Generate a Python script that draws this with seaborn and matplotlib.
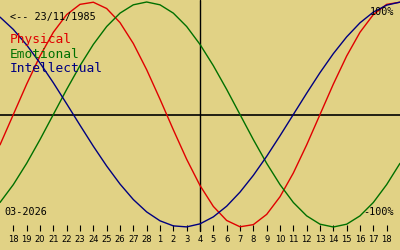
import matplotlib
matplotlib.use("Agg")
import matplotlib.pyplot as plt
import seaborn as sns
import pandas as pd

# Day labels (Feb 17 .. Mar 19, 2026); only Feb 18 .. Mar 18 are labelled
day_labels = ["17", "18", "19", "20", "21", "22", "23", "24", "25", "26", "27", "28",
              "1", "2", "3", "4", "5", "6", "7", "8", "9", "10", "11", "12", "13",
              "14", "15", "16", "17", "18", "19"]
physical = [-0.270, 0.000, 0.270, 0.520, 0.731, 0.888, 0.979, 0.998, 0.942, 0.817,
            0.631, 0.398, 0.136, -0.136, -0.398, -0.631, -0.817, -0.942, -0.998,
            -0.979, -0.888, -0.731, -0.520, -0.270, 0.000, 0.270, 0.520, 0.731,
            0.888, 0.979, 0.998]
emotional = [-0.782, -0.623, -0.434, -0.223, 0.000, 0.223, 0.434, 0.623, 0.782,
             0.901, 0.975, 1.000, 0.975, 0.901, 0.782, 0.623, 0.434, 0.223, 0.000,
             -0.223, -0.434, -0.623, -0.782, -0.901, -0.975, -1.000, -0.975,
             -0.901, -0.782, -0.623, -0.434]
intellectual = [0.866, 0.756, 0.618, 0.458, 0.282, 0.095, -0.095, -0.282, -0.458,
                -0.618, -0.756, -0.866, -0.945, -0.990, -0.999, -0.972, -0.910,
                -0.815, -0.690, -0.541, -0.372, -0.189, 0.000, 0.189, 0.372, 0.541,
                0.690, 0.815, 0.910, 0.972, 0.999]
series_names = ["Physical", "Emotional", "Intellectual"]
series_colors = ["#e00000", "#007000", "#000080"]
today_label = "4"
birth_text = "<-- 23/11/1985"
month_text = "03-2026"

sns.set_theme(style="white")
plt.rcParams["font.family"] = ["DejaVu Sans Mono", "DejaVu Sans"]
plt.rcParams["xtick.bottom"] = True
plt.rcParams["xtick.major.size"] = 4.3
plt.rcParams["xtick.major.width"] = 0.8
plt.rcParams["xtick.direction"] = "in"
plt.rcParams["xtick.color"] = "black"

bg = "#e1d285"
n = len(day_labels)
days = list(range(-1, n - 1))
df = pd.DataFrame({
    "day": days * 3,
    "value": physical + emotional + intellectual,
    "series": [s for s in series_names for _ in range(n)],
})

fig = plt.figure(figsize=(4, 2.5), dpi=100, facecolor=bg)
ax = fig.add_axes([0, 0, 1, 1])
ax.set_facecolor(bg)

sns.lineplot(data=df, x="day", y="value", hue="series", hue_order=series_names,
             palette=series_colors, linewidth=1.0, legend=False, ax=ax, zorder=3)

# pixel mapping: y_px = 114.5 - 112.5 * v
def v_of_px(py):
    return (114.5 - py) / 112.5

ax.set_xlim(-1, 29)
ax.set_ylim(v_of_px(250), v_of_px(0))

ax.axhline(0, color="black", linewidth=1.2, zorder=2)
today_idx = days[day_labels.index(today_label, 12)]
ax.axvline(today_idx, ymin=1 - 231 / 250, ymax=1, color="black", linewidth=1.0, zorder=2)

for s in ["top", "right", "left"]:
    ax.spines[s].set_visible(False)
ax.spines["bottom"].set_position(("data", v_of_px(231)))
ax.spines["bottom"].set_visible(False)
ax.set_xlabel("")
ax.set_ylabel("")
ax.set_yticks([])

tick_pos = days[1:-1]
ax.set_xticks(tick_pos)
ax.set_xticklabels(day_labels[1:-1])
ax.tick_params(axis="x", direction="in", length=4.3, width=0.8, pad=3,
               colors="black", bottom=True, labelsize=6,
               labelfontfamily="DejaVu Sans")
for t in ax.xaxis.get_major_ticks():
    t.tick1line.set_visible(True)
    t.tick1line.set_color("black")

def put(px, py, s, size, color="black", ha="left"):
    ax.text(px / 400, 1 - py / 250, s, transform=ax.transAxes, fontsize=size,
            color=color, ha=ha, va="center")

put(10, 17, birth_text, 7.3)
for i, (name, col) in enumerate(zip(series_names, series_colors)):
    put(10, 39 + 15 * i, name, 9.3, col)
put(4, 212, month_text, 7.3)
put(394, 12, "100%", 7.3, ha="right")
put(394, 212, "-100%", 7.3, ha="right")

fig.savefig("out.png", dpi=100, facecolor=bg)
